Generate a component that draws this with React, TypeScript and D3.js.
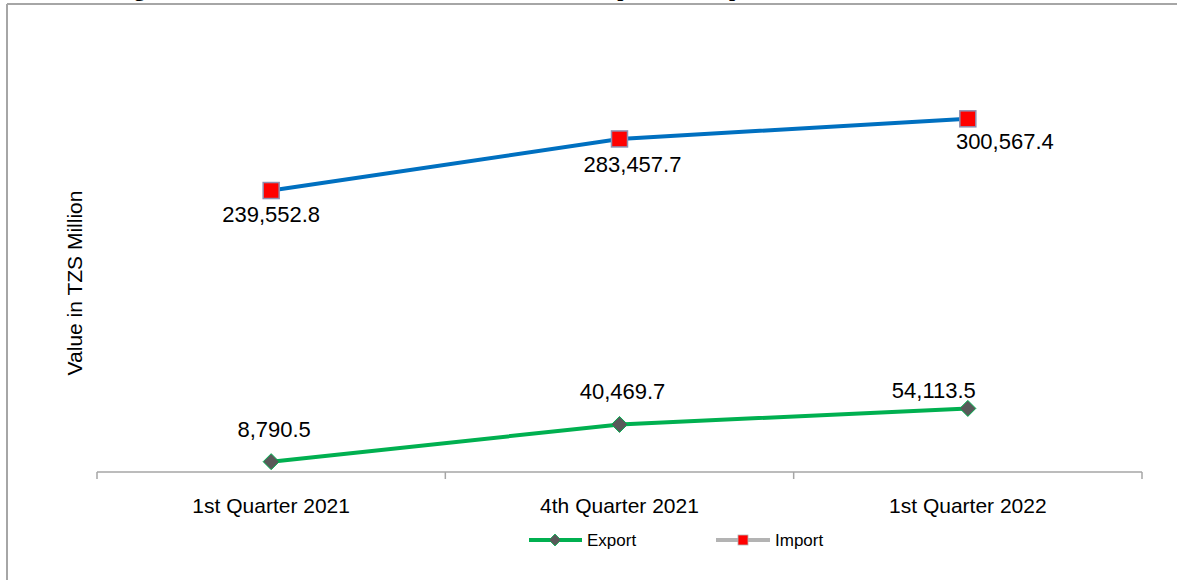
import { useEffect } from "react";
import * as d3 from "d3";

const categories = ["1st Quarter 2021", "4th Quarter 2021", "1st Quarter 2022"];
const exportValues = [8790.5, 40469.7, 54113.5];
const importValues = [239552.8, 283457.7, 300567.4];
const yDomainMax = 400000;
const titleText =
  "Figure 12: Trade between Tanzania and Zambia on Export and Import, Q1 2021, Q4 2021 and Q1 2022";

// label nudges (px) relative to each point
const importLabelOffsets = [
  [0, 31],
  [13, 33],
  [37, 30],
];
const exportLabelOffsets = [
  [3, -25],
  [3, -25],
  [-34, -10],
];

const W = 1177;
const H = 580;
const margin = { left: 97, right: 35, top: 2, axisY: 472 };

const fmt = d3.format(",.1f");

const App = () => {
  useEffect(() => {
    document.documentElement.style.overflow = "hidden";
    document.body.style.margin = "0";
    document.body.style.overflow = "hidden";
  }, []);

  const x = d3
    .scaleBand<string>()
    .domain(categories)
    .range([margin.left, W - margin.right])
    .paddingInner(0)
    .paddingOuter(0);
  const y = d3.scaleLinear().domain([0, yDomainMax]).range([margin.axisY, margin.top]);
  const cx = (c: string) => (x(c) ?? 0) + x.bandwidth() / 2;

  const line = d3
    .line<number>()
    .x((_, i) => cx(categories[i]))
    .y((d) => y(d));

  const tickXs = [...categories.map((c) => x(c) ?? 0), W - margin.right];
  const font = "'Liberation Sans', Arial, sans-serif";

  return (
    <div style={{ position: "fixed", left: 0, top: 0, width: W, height: H, overflow: "hidden" }}>
      <svg width={W} height={H} style={{ display: "block", background: "#fff" }}>
        {/* frame, only top and left edges are in view */}
        <line x1={7} x2={W} y1={4} y2={4} stroke="#a6a6a6" strokeWidth={2} />
        <line x1={7} x2={7} y1={4} y2={H} stroke="#a6a6a6" strokeWidth={2} />
        <text
          x={115}
          y={-4}
          textLength={950}
          lengthAdjust="spacingAndGlyphs"
          fontFamily="'Liberation Serif', 'Times New Roman', serif"
          fontWeight="bold"
          fontSize={21}
          fill="#000"
        >
          {titleText}
        </text>

        {/* x axis */}
        <line
          x1={margin.left}
          x2={W - margin.right}
          y1={margin.axisY}
          y2={margin.axisY}
          stroke="#a6a6a6"
          strokeWidth={1.5}
        />
        {tickXs.map((t, i) => (
          <line key={i} x1={t} x2={t} y1={margin.axisY} y2={margin.axisY + 7} stroke="#a6a6a6" strokeWidth={1.5} />
        ))}
        {categories.map((c) => (
          <text key={c} x={cx(c)} y={513} textAnchor="middle" fontFamily={font} fontSize={21} fill="#000">
            {c}
          </text>
        ))}

        <text
          transform={`translate(82,283) rotate(-90)`}
          textAnchor="middle"
          fontFamily={font}
          fontSize={21}
          fill="#000"
        >
          Value in TZS Million
        </text>

        {/* import */}
        <path d={line(importValues) ?? ""} fill="none" stroke="#0070C0" strokeWidth={4} />
        {importValues.map((v, i) => (
          <rect
            key={i}
            x={cx(categories[i]) - 8}
            y={y(v) - 8}
            width={16}
            height={16}
            fill="#FF0000"
            stroke="#8f8fb0"
            strokeWidth={1.5}
          />
        ))}
        {importValues.map((v, i) => (
          <text
            key={i}
            x={cx(categories[i]) + importLabelOffsets[i][0]}
            y={y(v) + importLabelOffsets[i][1]}
            textAnchor="middle"
            fontFamily={font}
            fontSize={22}
            fill="#000"
          >
            {fmt(v)}
          </text>
        ))}

        {/* export */}
        <path d={line(exportValues) ?? ""} fill="none" stroke="#00B050" strokeWidth={4} />
        {exportValues.map((v, i) => {
          const px = cx(categories[i]);
          const py = y(v);
          return (
            <path
              key={i}
              d={`M${px},${py - 8}L${px + 8},${py}L${px},${py + 8}L${px - 8},${py}Z`}
              fill="#595959"
              stroke="#00B050"
              strokeWidth={1}
            />
          );
        })}
        {exportValues.map((v, i) => (
          <text
            key={i}
            x={cx(categories[i]) + exportLabelOffsets[i][0]}
            y={y(v) + exportLabelOffsets[i][1]}
            textAnchor="middle"
            fontFamily={font}
            fontSize={22}
            fill="#000"
          >
            {fmt(v)}
          </text>
        ))}

        {/* legend */}
        <g transform="translate(529,540)">
          <line x1={0} x2={53} y1={0} y2={0} stroke="#00B050" strokeWidth={4} />
          <path d="M26,-6L32,0L26,6L20,0Z" fill="#595959" stroke="#00B050" strokeWidth={0.8} />
          <text x={58} y={6} fontFamily={font} fontSize={17} fill="#000">
            Export
          </text>
        </g>
        <g transform="translate(716,540)">
          <line x1={0} x2={54} y1={0} y2={0} stroke="#b3b3b3" strokeWidth={4} />
          <rect x={22} y={-5} width={10} height={10} fill="#FF0000" stroke="#b3b3b3" strokeWidth={0.8} />
          <text x={59} y={6} fontFamily={font} fontSize={17} fill="#000">
            Import
          </text>
        </g>
      </svg>
    </div>
  );
};

export default App;
